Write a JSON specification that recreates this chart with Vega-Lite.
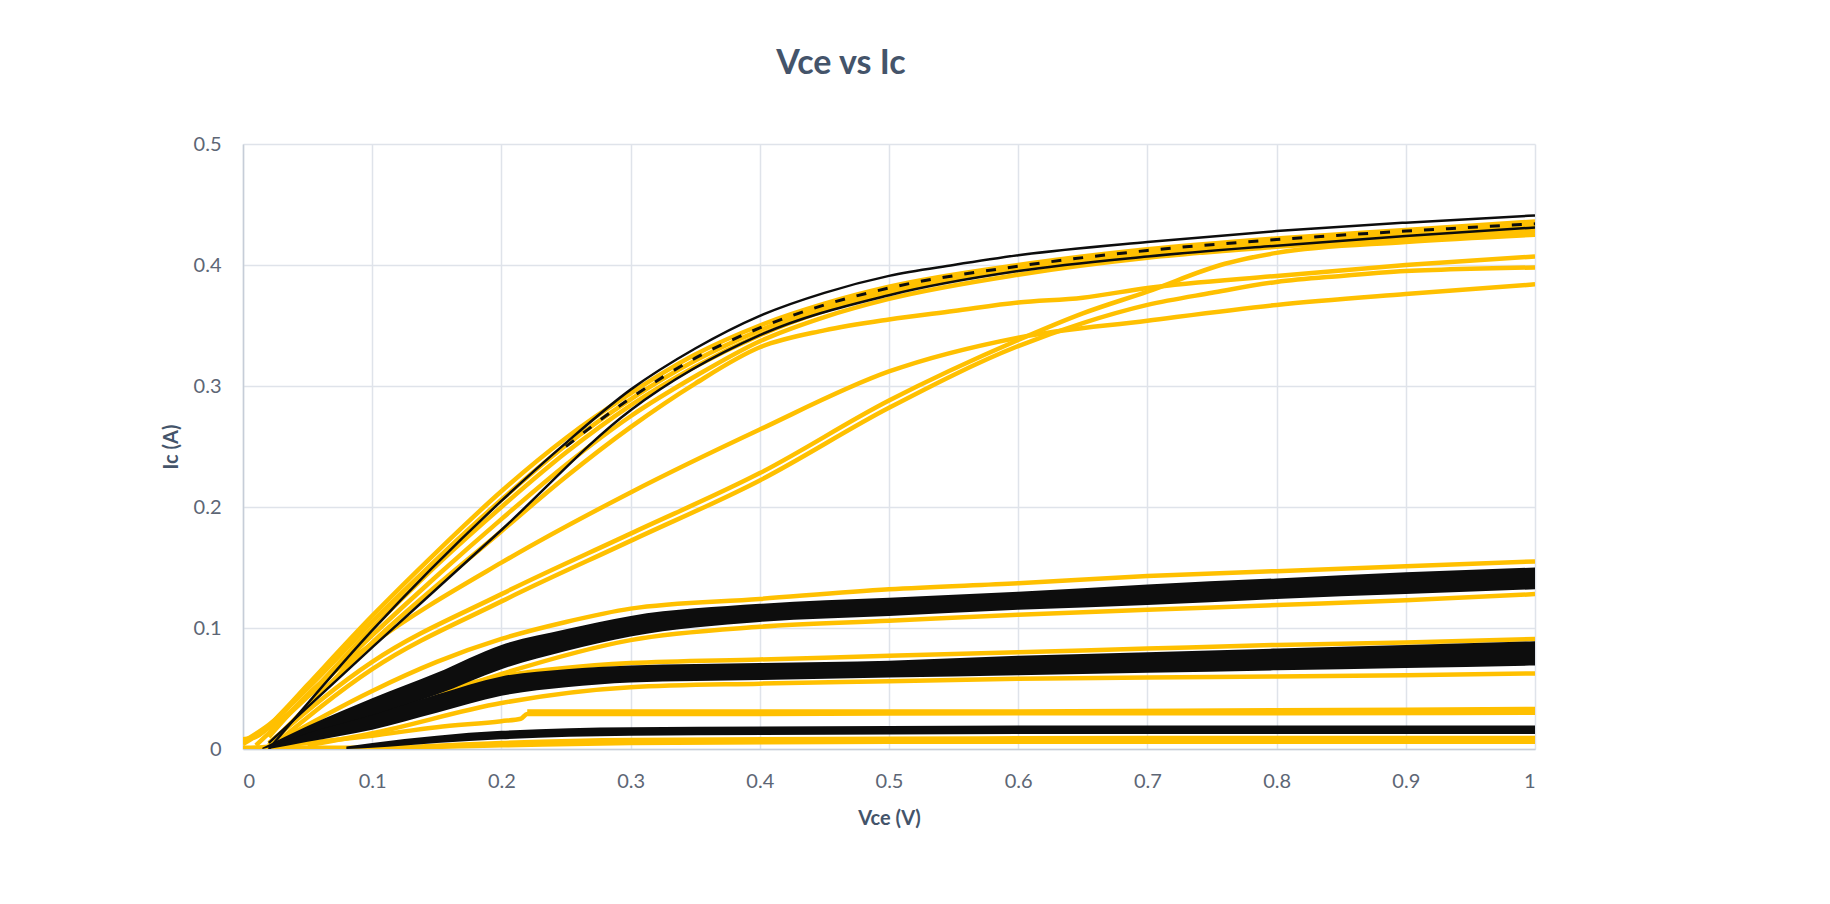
{
  "$schema": "https://vega.github.io/schema/vega-lite/v6.json",
  "width": 1292,
  "height": 605,
  "autosize": {"type": "none"},
  "padding": {"left": 243, "top": 144, "right": 295, "bottom": 155},
  "background": "white",
  "title": {"text": "Vce vs Ic", "font": "Lato", "fontSize": 34, "fontWeight": "bold", "color": "#44546a", "anchor": "middle", "frame": "group", "offset": 53, "dx": -48},
  "config": {
    "view": {"stroke": null},
    "axis": {"labelFont": "Lato", "labelFontSize": 20, "labelColor": "#5d6675", "titleFont": "Lato", "titleFontSize": 20, "titleFontWeight": "bold", "titleColor": "#44546a", "ticks": false, "grid": true, "gridColor": "#dfe3ea", "gridWidth": 1.5, "domainColor": "#c6cdd8", "domainWidth": 1.5}
  },
  "datasets": {
    "yl": [
      {"s":"Ya","v":0,"i":0.008},{"s":"Ya","v":0.01,"i":0.01},{"s":"Ya","v":0.03,"i":0.03},{"s":"Ya","v":0.05,"i":0.053},{"s":"Ya","v":0.1,"i":0.11},{"s":"Ya","v":0.15,"i":0.163},{"s":"Ya","v":0.2,"i":0.213},{"s":"Ya","v":0.25,"i":0.257},{"s":"Ya","v":0.3,"i":0.294},{"s":"Ya","v":0.35,"i":0.326},{"s":"Ya","v":0.4,"i":0.35},{"s":"Ya","v":0.45,"i":0.368},{"s":"Ya","v":0.5,"i":0.382},{"s":"Ya","v":0.6,"i":0.4},{"s":"Ya","v":0.7,"i":0.413},{"s":"Ya","v":0.8,"i":0.422},{"s":"Ya","v":0.9,"i":0.429},{"s":"Ya","v":1.0,"i":0.436},
      {"s":"Ye","v":0,"i":0.006},{"s":"Ye","v":0.02,"i":0.02},{"s":"Ye","v":0.05,"i":0.05},{"s":"Ye","v":0.1,"i":0.105},{"s":"Ye","v":0.15,"i":0.157},{"s":"Ye","v":0.2,"i":0.206},{"s":"Ye","v":0.25,"i":0.251},{"s":"Ye","v":0.3,"i":0.289},{"s":"Ye","v":0.35,"i":0.321},{"s":"Ye","v":0.4,"i":0.346},{"s":"Ye","v":0.45,"i":0.365},{"s":"Ye","v":0.5,"i":0.379},{"s":"Ye","v":0.6,"i":0.398},{"s":"Ye","v":0.7,"i":0.411},{"s":"Ye","v":0.8,"i":0.42},{"s":"Ye","v":0.9,"i":0.427},{"s":"Ye","v":1.0,"i":0.433},
      {"s":"Yb","v":0,"i":0.004},{"s":"Yb","v":0.03,"i":0.025},{"s":"Yb","v":0.1,"i":0.1},{"s":"Yb","v":0.15,"i":0.152},{"s":"Yb","v":0.2,"i":0.2},{"s":"Yb","v":0.25,"i":0.245},{"s":"Yb","v":0.3,"i":0.284},{"s":"Yb","v":0.35,"i":0.316},{"s":"Yb","v":0.4,"i":0.342},{"s":"Yb","v":0.45,"i":0.362},{"s":"Yb","v":0.5,"i":0.377},{"s":"Yb","v":0.6,"i":0.396},{"s":"Yb","v":0.7,"i":0.409},{"s":"Yb","v":0.8,"i":0.418},{"s":"Yb","v":0.9,"i":0.425},{"s":"Yb","v":1.0,"i":0.43},
      {"s":"Yd","v":0.01,"i":0.003},{"s":"Yd","v":0.05,"i":0.043},{"s":"Yd","v":0.1,"i":0.094},{"s":"Yd","v":0.15,"i":0.143},{"s":"Yd","v":0.2,"i":0.19},{"s":"Yd","v":0.25,"i":0.235},{"s":"Yd","v":0.3,"i":0.275},{"s":"Yd","v":0.35,"i":0.308},{"s":"Yd","v":0.4,"i":0.337},{"s":"Yd","v":0.45,"i":0.357},{"s":"Yd","v":0.5,"i":0.372},{"s":"Yd","v":0.6,"i":0.392},{"s":"Yd","v":0.7,"i":0.406},{"s":"Yd","v":0.8,"i":0.415},{"s":"Yd","v":0.9,"i":0.422},{"s":"Yd","v":1.0,"i":0.428},
      {"s":"Yc","v":0.02,"i":0.003},{"s":"Yc","v":0.1,"i":0.088},{"s":"Yc","v":0.2,"i":0.18},{"s":"Yc","v":0.25,"i":0.225},{"s":"Yc","v":0.3,"i":0.266},{"s":"Yc","v":0.35,"i":0.302},{"s":"Yc","v":0.4,"i":0.332},{"s":"Yc","v":0.45,"i":0.346},{"s":"Yc","v":0.5,"i":0.355},{"s":"Yc","v":0.55,"i":0.362},{"s":"Yc","v":0.6,"i":0.369},{"s":"Yc","v":0.65,"i":0.373},{"s":"Yc","v":0.7,"i":0.381},{"s":"Yc","v":0.8,"i":0.391},{"s":"Yc","v":0.9,"i":0.4},{"s":"Yc","v":1.0,"i":0.407},
      {"s":"Lu","v":0.02,"i":0.01},{"s":"Lu","v":0.05,"i":0.045},{"s":"Lu","v":0.1,"i":0.087},{"s":"Lu","v":0.2,"i":0.154},{"s":"Lu","v":0.3,"i":0.212},{"s":"Lu","v":0.4,"i":0.264},{"s":"Lu","v":0.5,"i":0.312},{"s":"Lu","v":0.6,"i":0.34},{"s":"Lu","v":0.7,"i":0.354},{"s":"Lu","v":0.8,"i":0.367},{"s":"Lu","v":0.9,"i":0.376},{"s":"Lu","v":1.0,"i":0.384},
      {"s":"Ll1","v":0.02,"i":0.005},{"s":"Ll1","v":0.1,"i":0.072},{"s":"Ll1","v":0.2,"i":0.128},{"s":"Ll1","v":0.3,"i":0.178},{"s":"Ll1","v":0.4,"i":0.228},{"s":"Ll1","v":0.5,"i":0.288},{"s":"Ll1","v":0.6,"i":0.338},{"s":"Ll1","v":0.65,"i":0.36},{"s":"Ll1","v":0.7,"i":0.378},{"s":"Ll1","v":0.76,"i":0.401},{"s":"Ll1","v":0.8,"i":0.41},{"s":"Ll1","v":0.9,"i":0.419},{"s":"Ll1","v":1.0,"i":0.425},
      {"s":"Ll2","v":0.02,"i":0.0},{"s":"Ll2","v":0.1,"i":0.066},{"s":"Ll2","v":0.2,"i":0.122},{"s":"Ll2","v":0.3,"i":0.172},{"s":"Ll2","v":0.4,"i":0.222},{"s":"Ll2","v":0.5,"i":0.282},{"s":"Ll2","v":0.6,"i":0.333},{"s":"Ll2","v":0.65,"i":0.352},{"s":"Ll2","v":0.7,"i":0.367},{"s":"Ll2","v":0.75,"i":0.377},{"s":"Ll2","v":0.8,"i":0.386},{"s":"Ll2","v":0.85,"i":0.391},{"s":"Ll2","v":0.9,"i":0.395},{"s":"Ll2","v":0.95,"i":0.397},{"s":"Ll2","v":1.0,"i":0.398},
      {"s":"M1t","v":0.02,"i":0.002},{"s":"M1t","v":0.1,"i":0.048},{"s":"M1t","v":0.15,"i":0.072},{"s":"M1t","v":0.2,"i":0.091},{"s":"M1t","v":0.25,"i":0.105},{"s":"M1t","v":0.3,"i":0.116},{"s":"M1t","v":0.4,"i":0.124},{"s":"M1t","v":0.5,"i":0.132},{"s":"M1t","v":0.6,"i":0.137},{"s":"M1t","v":0.7,"i":0.143},{"s":"M1t","v":0.8,"i":0.147},{"s":"M1t","v":0.9,"i":0.151},{"s":"M1t","v":1.0,"i":0.155},
      {"s":"M1b","v":0.05,"i":0.008},{"s":"M1b","v":0.1,"i":0.024},{"s":"M1b","v":0.2,"i":0.062},{"s":"M1b","v":0.3,"i":0.09},{"s":"M1b","v":0.4,"i":0.101},{"s":"M1b","v":0.5,"i":0.106},{"s":"M1b","v":0.6,"i":0.111},{"s":"M1b","v":0.7,"i":0.115},{"s":"M1b","v":0.8,"i":0.119},{"s":"M1b","v":0.9,"i":0.123},{"s":"M1b","v":1.0,"i":0.128},
      {"s":"M2t","v":0.02,"i":0.003},{"s":"M2t","v":0.1,"i":0.032},{"s":"M2t","v":0.2,"i":0.06},{"s":"M2t","v":0.3,"i":0.071},{"s":"M2t","v":0.4,"i":0.074},{"s":"M2t","v":0.5,"i":0.077},{"s":"M2t","v":0.6,"i":0.08},{"s":"M2t","v":0.7,"i":0.083},{"s":"M2t","v":0.8,"i":0.086},{"s":"M2t","v":0.9,"i":0.088},{"s":"M2t","v":1.0,"i":0.091},
      {"s":"M2b","v":0.05,"i":0.003},{"s":"M2b","v":0.1,"i":0.013},{"s":"M2b","v":0.2,"i":0.038},{"s":"M2b","v":0.3,"i":0.051},{"s":"M2b","v":0.4,"i":0.054},{"s":"M2b","v":0.5,"i":0.056},{"s":"M2b","v":0.6,"i":0.058},{"s":"M2b","v":0.7,"i":0.059},{"s":"M2b","v":0.8,"i":0.06},{"s":"M2b","v":0.9,"i":0.061},{"s":"M2b","v":1.0,"i":0.0625},
      {"s":"M3a","v":0,"i":0.0},{"s":"M3a","v":0.05,"i":0.005},{"s":"M3a","v":0.1,"i":0.011},{"s":"M3a","v":0.15,"i":0.018},{"s":"M3a","v":0.2,"i":0.023},{"s":"M3a","v":0.215,"i":0.025},{"s":"M3a","v":0.22,"i":0.029},{"s":"M3a","v":0.4,"i":0.029},{"s":"M3a","v":0.6,"i":0.0295},{"s":"M3a","v":0.8,"i":0.0295},{"s":"M3a","v":1.0,"i":0.03},
      {"s":"M3b","v":0.22,"i":0.031},{"s":"M3b","v":0.4,"i":0.031},{"s":"M3b","v":0.6,"i":0.031},{"s":"M3b","v":0.8,"i":0.032},{"s":"M3b","v":1.0,"i":0.033},
      {"s":"M3c","v":0.1,"i":0.0},{"s":"M3c","v":0.2,"i":0.005},{"s":"M3c","v":0.3,"i":0.0075},{"s":"M3c","v":0.5,"i":0.0085},{"s":"M3c","v":0.7,"i":0.009},{"s":"M3c","v":1.0,"i":0.009},
      {"s":"M3d","v":0,"i":0.001},{"s":"M3d","v":0.1,"i":0.001},{"s":"M3d","v":0.2,"i":0.003},{"s":"M3d","v":0.3,"i":0.005},{"s":"M3d","v":0.5,"i":0.006},{"s":"M3d","v":1.0,"i":0.006}
    ],
    "bk": [
      {"s":"M1","v":0.015,"i":0,"i2":0.001},{"s":"M1","v":0.05,"i":0.01,"i2":0.019},{"s":"M1","v":0.1,"i":0.027,"i2":0.042},{"s":"M1","v":0.15,"i":0.045,"i2":0.063},{"s":"M1","v":0.2,"i":0.066,"i2":0.086},{"s":"M1","v":0.25,"i":0.081,"i2":0.099},{"s":"M1","v":0.3,"i":0.093,"i2":0.11},{"s":"M1","v":0.4,"i":0.105,"i2":0.12},{"s":"M1","v":0.5,"i":0.11,"i2":0.125},{"s":"M1","v":0.6,"i":0.115,"i2":0.13},{"s":"M1","v":0.7,"i":0.119,"i2":0.136},{"s":"M1","v":0.8,"i":0.124,"i2":0.141},{"s":"M1","v":0.9,"i":0.128,"i2":0.146},{"s":"M1","v":1.0,"i":0.132,"i2":0.15},
      {"s":"M2","v":0.02,"i":0,"i2":0.002},{"s":"M2","v":0.05,"i":0.006,"i2":0.013},{"s":"M2","v":0.1,"i":0.016,"i2":0.028},{"s":"M2","v":0.15,"i":0.03,"i2":0.045},{"s":"M2","v":0.2,"i":0.044,"i2":0.06},{"s":"M2","v":0.25,"i":0.051,"i2":0.066},{"s":"M2","v":0.3,"i":0.055,"i2":0.069},{"s":"M2","v":0.4,"i":0.057,"i2":0.071},{"s":"M2","v":0.5,"i":0.059,"i2":0.073},{"s":"M2","v":0.6,"i":0.061,"i2":0.077},{"s":"M2","v":0.7,"i":0.063,"i2":0.08},{"s":"M2","v":0.8,"i":0.065,"i2":0.083},{"s":"M2","v":0.9,"i":0.067,"i2":0.086},{"s":"M2","v":1.0,"i":0.069,"i2":0.089},
      {"s":"M3","v":0.08,"i":0,"i2":0.002},{"s":"M3","v":0.1,"i":0.001,"i2":0.005},{"s":"M3","v":0.15,"i":0.005,"i2":0.011},{"s":"M3","v":0.2,"i":0.008,"i2":0.015},{"s":"M3","v":0.3,"i":0.011,"i2":0.018},{"s":"M3","v":0.5,"i":0.012,"i2":0.019},{"s":"M3","v":0.7,"i":0.0125,"i2":0.0195},{"s":"M3","v":1.0,"i":0.0125,"i2":0.0195}
    ],
    "bl": [
      {"s":"Bt","v":0.02,"i":0.0},{"s":"Bt","v":0.1,"i":0.098},{"s":"Bt","v":0.2,"i":0.205},{"s":"Bt","v":0.25,"i":0.253},{"s":"Bt","v":0.3,"i":0.297},{"s":"Bt","v":0.35,"i":0.331},{"s":"Bt","v":0.4,"i":0.358},{"s":"Bt","v":0.45,"i":0.377},{"s":"Bt","v":0.5,"i":0.391},{"s":"Bt","v":0.55,"i":0.4},{"s":"Bt","v":0.6,"i":0.408},{"s":"Bt","v":0.7,"i":0.419},{"s":"Bt","v":0.8,"i":0.428},{"s":"Bt","v":0.9,"i":0.435},{"s":"Bt","v":1.0,"i":0.441},
      {"s":"Bi","v":0.02,"i":0.005},{"s":"Bi","v":0.1,"i":0.084},{"s":"Bi","v":0.2,"i":0.181},{"s":"Bi","v":0.3,"i":0.28},{"s":"Bi","v":0.4,"i":0.342},{"s":"Bi","v":0.5,"i":0.375},{"s":"Bi","v":0.6,"i":0.395},{"s":"Bi","v":0.7,"i":0.407},{"s":"Bi","v":0.8,"i":0.416},{"s":"Bi","v":0.9,"i":0.424},{"s":"Bi","v":1.0,"i":0.431}
    ],
    "bd": [
      {"s":"Bd","v":0.25,"i":0.25},{"s":"Bd","v":0.3,"i":0.29},{"s":"Bd","v":0.35,"i":0.323},{"s":"Bd","v":0.4,"i":0.348},{"s":"Bd","v":0.45,"i":0.367},{"s":"Bd","v":0.5,"i":0.381},{"s":"Bd","v":0.6,"i":0.399},{"s":"Bd","v":0.7,"i":0.412},{"s":"Bd","v":0.8,"i":0.421},{"s":"Bd","v":0.9,"i":0.428},{"s":"Bd","v":1.0,"i":0.434}
    ]
  },
  "layer": [
    {
      "data": {"name": "yl"},
      "mark": {"type": "line", "color": "#FFC000", "strokeWidth": 4.5, "interpolate": "monotone", "clip": true},
      "encoding": {
        "x": {"field": "v", "type": "quantitative", "title": "Vce (V)", "scale": {"domain": [0, 1], "nice": false}, "axis": {"values": [0,0.1,0.2,0.3,0.4,0.5,0.6,0.7,0.8,0.9,1], "format": "~g", "labelPadding": 22, "titlePadding": 17}},
        "y": {"field": "i", "type": "quantitative", "title": "Ic (A)", "scale": {"domain": [0, 0.5], "nice": false}, "axis": {"values": [0,0.1,0.2,0.3,0.4,0.5], "format": "~g", "labelPadding": 22, "titlePadding": 12}},
        "detail": {"field": "s"}
      }
    },
    {
      "data": {"name": "bk"},
      "mark": {"type": "area", "color": "#0D0D0D", "interpolate": "monotone", "clip": true},
      "encoding": {
        "x": {"field": "v", "type": "quantitative", "title": "Vce (V)"},
        "y": {"field": "i", "type": "quantitative", "title": "Ic (A)"},
        "y2": {"field": "i2"},
        "detail": {"field": "s"}
      }
    },
    {
      "data": {"name": "bd"},
      "mark": {"type": "line", "color": "#0D0D0D", "strokeWidth": 3, "strokeDash": [10, 12], "interpolate": "monotone", "clip": true},
      "encoding": {
        "x": {"field": "v", "type": "quantitative", "title": "Vce (V)"},
        "y": {"field": "i", "type": "quantitative", "title": "Ic (A)"},
        "detail": {"field": "s"}
      }
    },
    {
      "data": {"name": "bl"},
      "mark": {"type": "line", "color": "#0D0D0D", "strokeWidth": 2.5, "interpolate": "monotone", "clip": true},
      "encoding": {
        "x": {"field": "v", "type": "quantitative", "title": "Vce (V)"},
        "y": {"field": "i", "type": "quantitative", "title": "Ic (A)"},
        "detail": {"field": "s"}
      }
    }
  ]
}
